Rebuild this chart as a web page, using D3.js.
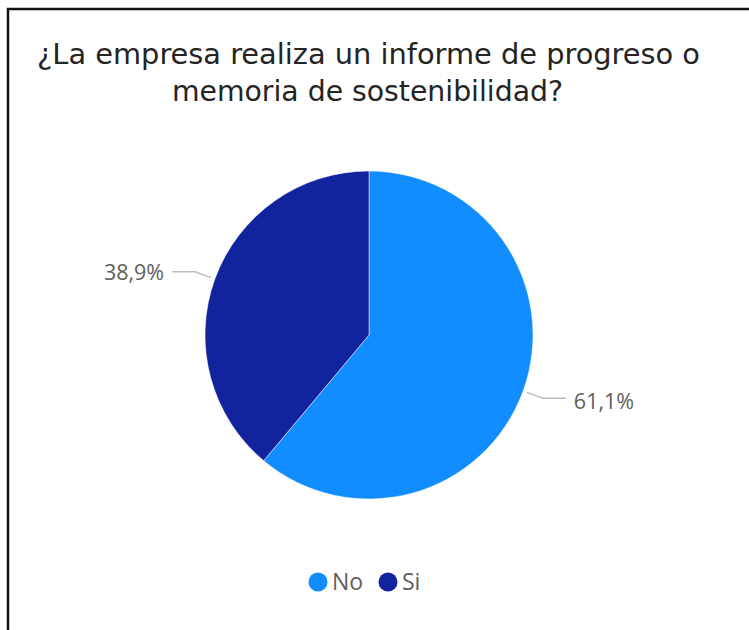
<!DOCTYPE html>
<html>
<head>
<meta charset="utf-8">
<script src="https://cdn.jsdelivr.net/npm/d3@7"></script>
<style>
  html, body { margin: 0; padding: 0; background: #fff; }
  svg { display: block; }
</style>
</head>
<body>
<div id="chart"></div>
<script>
const titleLines = ["¿La empresa realiza un informe de progreso o", "memoria de sostenibilidad?"];
const categories = ["No", "Si"];
const values = [61.1, 38.9];
const colors = ["#118DFF", "#12239E"];

const width = 749, height = 630;
const cx = 369, cy = 335, radius = 164;

const esLocale = d3.formatLocale({decimal: ",", thousands: ".", grouping: [3], currency: ["", " €"]});
const fmt = esLocale.format(".1f");

const svg = d3.select("#chart")
    .append("svg")
    .attr("width", width)
    .attr("height", height);

// frame (only top and left edges are visible in the crop)
svg.append("path")
    .attr("d", `M8,${height} L8,9 L${width},9`)
    .attr("fill", "none")
    .attr("stroke", "#111")
    .attr("stroke-width", 2.5);

// title
const titleWidths = [663, 391];
svg.selectAll("text.title")
    .data(titleLines)
    .enter()
    .append("text")
    .attr("class", "title")
    .attr("x", (d, i) => i === 0 ? 37 : 172)
    .attr("y", (d, i) => 64 + i * 36.5)
    .attr("textLength", (d, i) => titleWidths[i])
    .attr("lengthAdjust", "spacingAndGlyphs")
    .style("font-family", "'DejaVu Sans Condensed', 'Liberation Sans Narrow', 'Open Sans', sans-serif")
    .style("font-size", "29px")
    .style("fill", "#252423")
    .text(d => d);

const data = categories.map((c, i) => ({cat: c, value: values[i], color: colors[i]}));

const pie = d3.pie().sort(null).value(d => d.value);
const arcs = pie(data);

const arc = d3.arc().innerRadius(0).outerRadius(radius);
const arcStart = d3.arc().innerRadius(radius + 4).outerRadius(radius + 4);
const arcElbow = d3.arc().innerRadius(radius + 21).outerRadius(radius + 21);

const g = svg.append("g").attr("transform", `translate(${cx},${cy})`);

g.selectAll("path.slice")
    .data(arcs)
    .enter()
    .append("path")
    .attr("class", "slice")
    .attr("d", arc)
    .attr("fill", d => d.data.color)
    .attr("stroke", "#fff")
    .attr("stroke-width", 0.5);

// leader lines and labels
const side = d => ((d.startAngle + d.endAngle) / 2 < Math.PI ? 1 : -1);

g.selectAll("polyline")
    .data(arcs)
    .enter()
    .append("polyline")
    .attr("points", d => {
        const a = arcStart.centroid(d);
        const b = arcElbow.centroid(d);
        const c = [b[0] + side(d) * 23, b[1]];
        return [a, b, c].map(p => p.join(",")).join(" ");
    })
    .attr("fill", "none")
    .attr("stroke", "#bebcba")
    .attr("stroke-width", 1.5);

g.selectAll("text.label")
    .data(arcs)
    .enter()
    .append("text")
    .attr("class", "label")
    .attr("x", d => arcElbow.centroid(d)[0] + side(d) * 31)
    .attr("y", d => arcElbow.centroid(d)[1])
    .attr("dy", d => side(d) > 0 ? "0.5em" : "0.38em")
    .attr("text-anchor", d => side(d) > 0 ? "start" : "end")
    .style("font-family", "'Open Sans', 'Noto Sans', sans-serif")
    .style("font-size", "21.5px")
    .style("fill", "#605e5c")
    .text(d => fmt(d.data.value) + "%");

// legend
const legendX = [318, 388];
const legend = svg.append("g");
const items = legend.selectAll("g")
    .data(data)
    .enter()
    .append("g")
    .attr("transform", (d, i) => `translate(${legendX[i]},582)`);

items.append("circle")
    .attr("r", 9.5)
    .attr("fill", d => d.color);

items.append("text")
    .attr("x", 14)
    .attr("dy", "0.36em")
    .style("font-family", "'Open Sans', 'Noto Sans', sans-serif")
    .style("font-size", "23px")
    .style("fill", "#605e5c")
    .text(d => d.cat);
</script>
</body>
</html>
